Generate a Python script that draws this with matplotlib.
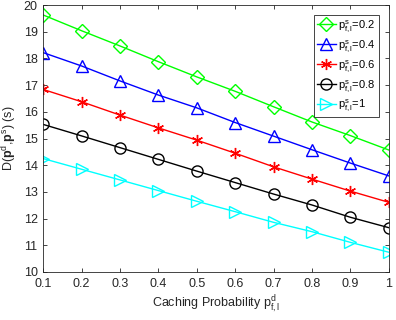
import numpy as np
import matplotlib
matplotlib.use("Agg")
import matplotlib.pyplot as plt

plt.rcParams['font.family'] = ['Liberation Sans', 'DejaVu Sans']
plt.rcParams['mathtext.fontset'] = 'custom'
plt.rcParams['mathtext.rm'] = 'Liberation Sans'
plt.rcParams['mathtext.it'] = 'Liberation Sans'
plt.rcParams['mathtext.bf'] = 'Liberation Sans:bold'

caching_prob = [0.1, 0.2, 0.3, 0.4, 0.5, 0.6, 0.7, 0.8, 0.9, 1.0]
ps_values = ['0.2', '0.4', '0.6', '0.8', '1']
delay_02 = [19.63, 19.04, 18.47, 17.88, 17.31, 16.77, 16.19, 15.62, 15.11, 14.57]
delay_04 = [18.22, 17.72, 17.16, 16.63, 16.15, 15.60, 15.09, 14.58, 14.08, 13.60]
delay_06 = [16.84, 16.38, 15.88, 15.40, 14.94, 14.45, 13.94, 13.48, 13.03, 12.61]
delay_08 = [15.53, 15.10, 14.66, 14.22, 13.78, 13.35, 12.92, 12.51, 12.05, 11.66]
delay_1 = [14.25, 13.85, 13.45, 13.05, 12.65, 12.26, 11.86, 11.51, 11.11, 10.74]

series = [delay_02, delay_04, delay_06, delay_08, delay_1]
colors = ['#00ff00', '#0000ff', '#ff0000', '#000000', '#00ffff']
markers = ['D', '^', (6, 2, 0), 'o', '>']
sizes = [7, 8.5, 8, 8, 8.5]

fig = plt.figure(figsize=(3.96, 3.20), dpi=100)
ax = fig.add_axes([0.109, 0.15, 0.873, 0.834])

for y, c, m, s, p in zip(series, colors, markers, sizes, ps_values):
    ax.plot(caching_prob, y, color=c, marker=m, markersize=s, lw=1,
            markerfacecolor='none', markeredgecolor=c, markeredgewidth=1,
            label=r'$\mathrm{p}^{\mathrm{s}}_{\mathrm{f,l}}$=' + p)

ax.set_xlim(0.1, 1)
ax.set_ylim(10, 20)
ax.set_xticks(caching_prob)
ax.set_xticklabels(['0.1', '0.2', '0.3', '0.4', '0.5', '0.6', '0.7', '0.8', '0.9', '1'])
ax.set_yticks(range(10, 21))
ax.tick_params(direction='in', top=True, right=True, labelsize=9,
               colors='#262626', length=3, width=0.6, pad=4)
for sp in ax.spines.values():
    sp.set_color('#262626')
    sp.set_linewidth(0.6)

ax.set_xlabel(r'Caching Probability $\mathrm{p}^{\mathrm{d}}_{\mathrm{f,l}}$', fontsize=9,
              color='#262626', labelpad=3)
ax.set_ylabel(r'D($\mathbf{p}^{\mathrm{d}}$,$\mathbf{p}^{\mathrm{s}}$) (s)', fontsize=9,
              color='#262626', labelpad=3)

leg = ax.legend(loc='upper right', bbox_to_anchor=(0.971, 0.963), fontsize=8,
                fancybox=False, framealpha=1, edgecolor='#262626',
                handlelength=1.7, handletextpad=0.2, borderpad=0.3,
                labelspacing=0.35, borderaxespad=0)
leg.get_frame().set_linewidth(0.6)

fig.savefig('out.png', dpi=100)
